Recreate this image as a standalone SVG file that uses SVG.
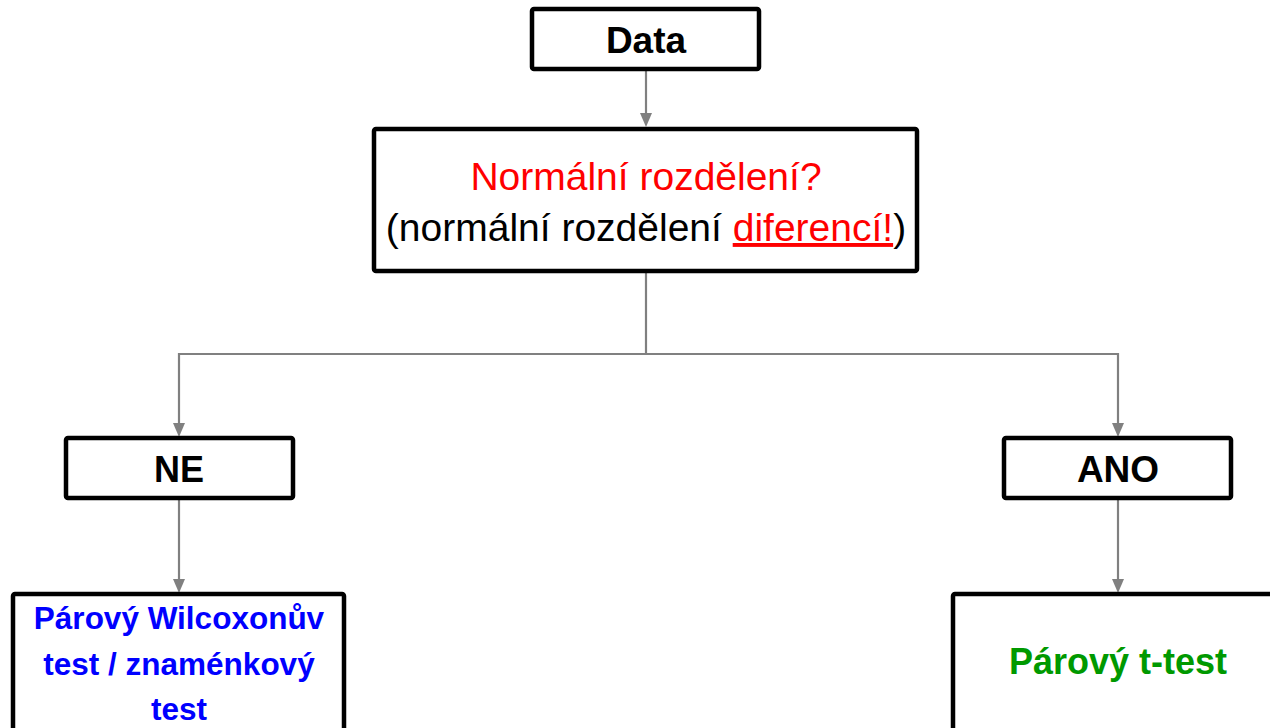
<svg xmlns="http://www.w3.org/2000/svg" width="1270" height="728" viewBox="0 0 1270 728">
<defs>
<style>
.box{fill:#fff;stroke:#000;stroke-width:4.5}
.t{font-family:"Liberation Sans",Arial,sans-serif;text-anchor:middle}
.b{font-weight:bold}
.c{fill:none;stroke:#808080;stroke-width:2.2}
.h{fill:#808080}
</style>
</defs>
<rect width="1270" height="728" fill="#fff"/>
<g id="connectors">
<path class="c" d="M646,70 V113"/>
<path class="c" d="M646,272 V354 H179 V423"/>
<path class="c" d="M646,354 H1118 V423"/>
<path class="c" d="M179,498 V579"/>
<path class="c" d="M1118,498 V579"/>
<path class="h" d="M640,113 L652,113 L646,127 Z"/>
<path class="h" d="M173,423 L185,423 L179,437 Z"/>
<path class="h" d="M1112,423 L1124,423 L1118,437 Z"/>
<path class="h" d="M173,579 L185,579 L179,593 Z"/>
<path class="h" d="M1112,579 L1124,579 L1118,593 Z"/>
</g>
<g id="data">
<rect class="box" x="532" y="9" width="227" height="60" rx="2"/>
<text class="t b" x="646" y="53" font-size="37">Data</text>
</g>
<g id="normal">
<rect class="box" x="374" y="129" width="543" height="142" rx="2"/>
<text class="t" x="646" y="190" font-size="39" fill="#ff0000">Normální rozdělení?</text>
<text class="t" x="646" y="241" font-size="39" fill="#000">(normální rozdělení <tspan fill="#ff0000" text-decoration="underline">diferencí!</tspan>)</text>
</g>
<g id="ne">
<rect class="box" x="66" y="438" width="227" height="60" rx="2"/>
<text class="t b" x="179" y="482" font-size="36">NE</text>
</g>
<g id="ano">
<rect class="box" x="1004" y="438" width="227" height="60" rx="2"/>
<text class="t b" x="1118" y="482" font-size="37">ANO</text>
</g>
<g id="wilcoxon">
<rect class="box" x="13" y="594" width="331" height="150" rx="2"/>
<text class="t b" x="179" y="629" font-size="31.5" fill="#0000ff">Párový Wilcoxonův</text>
<text class="t b" x="179" y="675" font-size="31.5" fill="#0000ff">test / znaménkový</text>
<text class="t b" x="179" y="720" font-size="31.5" fill="#0000ff">test</text>
</g>
<g id="ttest">
<rect class="box" x="953" y="594" width="340" height="150" rx="2"/>
<text class="t b" x="1118" y="674" font-size="36" fill="#009900">Párový t-test</text>
</g>
</svg>
